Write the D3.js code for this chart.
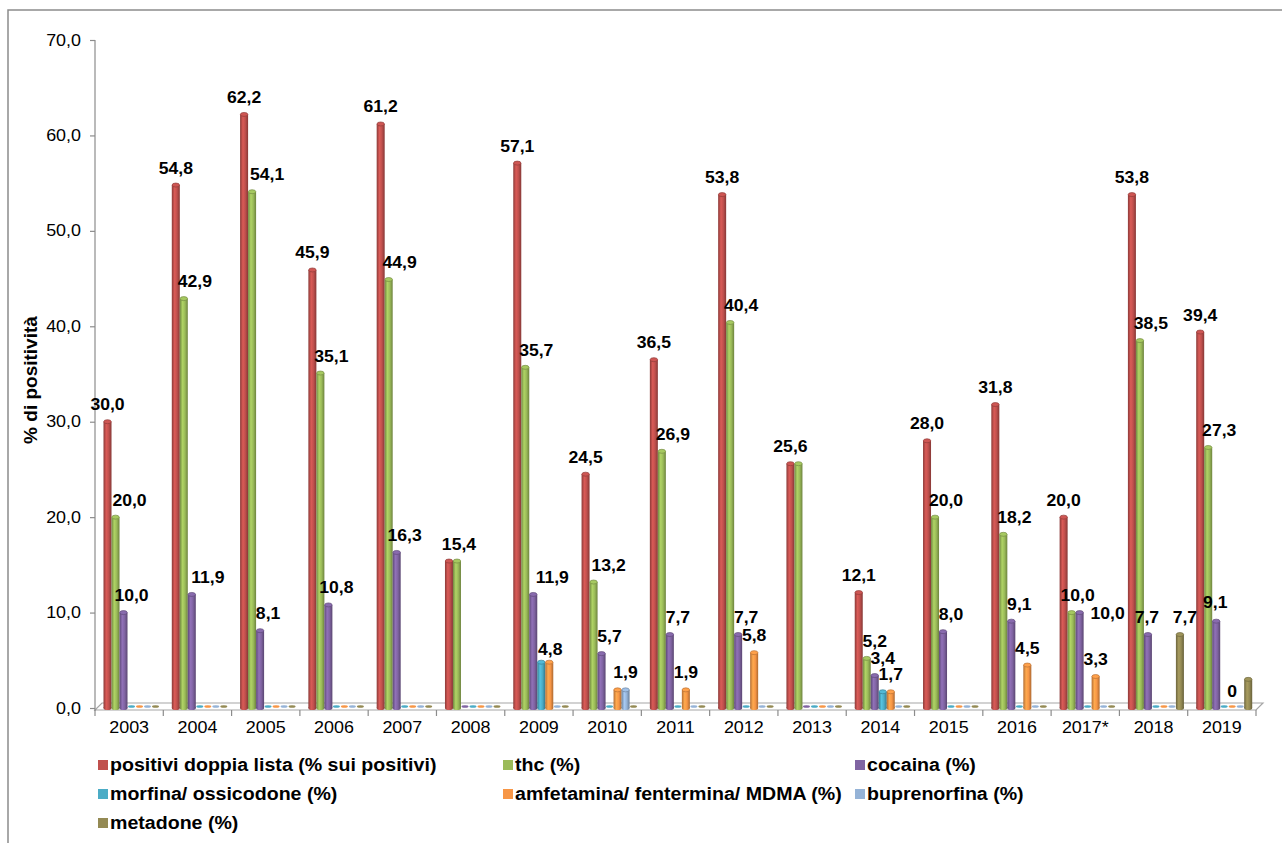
<!DOCTYPE html>
<html>
<head>
<meta charset="utf-8">
<script src="https://cdn.jsdelivr.net/npm/d3@7"></script>
<style>
  body { margin: 0; background: #fff; }
  svg { display: block; }
  text { font-family: Arial, "Liberation Sans", sans-serif; }
</style>
</head>
<body>
<svg id="chart" width="1282" height="843"></svg>
<script>
// Categories and series values (% di positività)
const years = ["2003","2004","2005","2006","2007","2008","2009","2010","2011","2012","2013","2014","2015","2016","2017*","2018","2019"];
const seriesNames = [
  "positivi doppia lista (% sui positivi)",
  "thc (%)",
  "cocaina (%)",
  "morfina/ ossicodone (%)",
  "amfetamina/ fentermina/ MDMA (%)",
  "buprenorfina (%)",
  "metadone (%)"
];
const positiviDoppiaLista = [30.0,54.8,62.2,45.9,61.2,15.4,57.1,24.5,36.5,53.8,25.6,12.1,28.0,31.8,20.0,53.8,39.4];
const thc                 = [20.0,42.9,54.1,35.1,44.9,15.4,35.7,13.2,26.9,40.4,25.6, 5.2,20.0,18.2,10.0,38.5,27.3];
const cocaina             = [10.0,11.9, 8.1,10.8,16.3, 0.0,11.9, 5.7, 7.7, 7.7, 0.0, 3.4, 8.0, 9.1,10.0, 7.7, 9.1];
const morfina             = [ 0.0, 0.0, 0.0, 0.0, 0.0, 0.0, 4.8, 0.0, 0.0, 0.0, 0.0, 1.7, 0.0, 0.0, 0.0, 0.0, 0.0];
const amfetamina          = [ 0.0, 0.0, 0.0, 0.0, 0.0, 0.0, 4.8, 1.9, 1.9, 5.8, 0.0, 1.7, 0.0, 4.5, 3.3, 0.0, 0.0];
const buprenorfina        = [ 0.0, 0.0, 0.0, 0.0, 0.0, 0.0, 0.0, 1.9, 0.0, 0.0, 0.0, 0.0, 0.0, 0.0, 0.0, 0.0, 0.0];
const metadone            = [ 0.0, 0.0, 0.0, 0.0, 0.0, 0.0, 0.0, 0.0, 0.0, 0.0, 0.0, 0.0, 0.0, 0.0, 0.0, 7.7, 3.0];
const yTicks = [0,10,20,30,40,50,60,70];

// Labels left out: duplicates of an identical neighbour, and the unlabelled metadone 2019 bar
const hiddenLabels = [[0,"2008"],[1,"2013"],[3,"2009"],[4,"2010"],[3,"2014"],[6,"2019"]];
// Zero value that still carries a label
const zeroLabels = [[4,"2019"]];

const seriesValues = [positiviDoppiaLista, thc, cocaina, morfina, amfetamina, buprenorfina, metadone];
const colors = ["#C0504D","#9BBB59","#8064A2","#4BACC6","#F79646","#95B3D7","#948A54"];

// label placement relative to the cylinder centre
const labelDx = [0, 11, 8, 0, 0, 0, 5];
const labelNudge = {
  "1|2003": [3,0], "1|2005": [4,0], "1|2008": [-9,0], "1|2010": [4,0], "1|2014": [-3,0], "1|2017*": [-5,0],
  "2|2004": [8,0], "2|2009": [11,0], "2|2017*": [20,18], "2|2018": [-9,0], "2|2019": [-9,-2],
  "4|2009": [1,4]
};

// the lettering is slightly wide: stretch text horizontally about its anchor
const STRETCH = 1.12;
function widen(sel, k) {
  sel.each(function () {
    const t = d3.select(this);
    const tx = +t.attr("x") || 0, ty = +t.attr("y") || 0;
    t.attr("x", 0).attr("y", 0)
     .attr("transform", `translate(${tx},${ty}) scale(${k},1)`);
  });
}

const svg = d3.select("#chart");
const defs = svg.append("defs");

const W = 1282, H = 843;
const x0 = 95, x1 = 1256;     // front edge of the floor
const depthX = 7, depthY = 7; // 3-D depth of the floor

const x = d3.scaleBand().domain(years).range([x0, x1]).padding(0);
const xs = d3.scaleBand().domain(d3.range(seriesNames.length)).range([8.5, 64.5]).padding(0);
const y = d3.scaleLinear().domain([0, 70]).range([708, 40]);

// outer frame
svg.append("path")
  .attr("d", `M8,${H} L8,10 L${W},10`)
  .attr("fill", "none").attr("stroke", "#8c8c8c").attr("stroke-width", 1.5);

// cylinder shading
colors.forEach((c, i) => {
  const base = d3.color(c);
  const g = defs.append("linearGradient").attr("id", "cyl" + i)
    .attr("x1", "0%").attr("x2", "100%").attr("y1", "0%").attr("y2", "0%");
  g.append("stop").attr("offset", "0%").attr("stop-color", base.darker(0.9));
  g.append("stop").attr("offset", "35%").attr("stop-color", base.brighter(0.35));
  g.append("stop").attr("offset", "65%").attr("stop-color", base);
  g.append("stop").attr("offset", "100%").attr("stop-color", base.darker(1.0));
});

// floor
const floorPts = [[x0, 710], [x1, 710], [x1 + depthX, 710 - depthY], [x0 + depthX, 710 - depthY]];
svg.append("polygon")
  .attr("points", floorPts.map(p => p.join(",")).join(" "))
  .attr("fill", "#ffffff").attr("stroke", "#a6a6a6").attr("stroke-width", 1.2);

// y axis
const yAxis = d3.axisLeft(y).tickValues(yTicks).tickSize(5).tickSizeOuter(0)
  .tickFormat(d => d3.format(".1f")(d).replace(".", ","));
const gy = svg.append("g").attr("transform", `translate(${x0},0)`).call(yAxis);
gy.select(".domain").attr("stroke", "#8c8c8c").attr("stroke-width", 1.2)
  .attr("d", `M0,${y(70)}V711`);
gy.selectAll(".tick line").attr("stroke", "#8c8c8c").attr("stroke-width", 1.2);
gy.selectAll(".tick text").attr("x", -14).attr("font-size", 16).attr("fill", "#000");
widen(gy.selectAll(".tick text"), STRETCH);

// x axis: labels centred in each band, ticks at band boundaries
const xAxis = d3.axisBottom(x).tickSize(0).tickSizeOuter(0);
const gx = svg.append("g").attr("transform", "translate(0,710)").call(xAxis);
gx.select(".domain").remove();
gx.selectAll(".tick text").attr("y", 12).attr("dy", "0.71em").attr("font-size", 16).attr("fill", "#000");
widen(gx.selectAll(".tick text"), STRETCH);
svg.append("g").selectAll("line")
  .data(years.concat(["end"]))
  .join("line")
  .attr("x1", (d, i) => i < years.length ? x(d) : x1)
  .attr("x2", (d, i) => i < years.length ? x(d) : x1)
  .attr("y1", 710).attr("y2", 716)
  .attr("stroke", "#8c8c8c").attr("stroke-width", 1.2);

// bars
const bw = xs.bandwidth();
const capRy = 2;
const barsG = svg.append("g");
seriesValues.forEach((vals, si) => {
  const g = barsG.append("g");
  const data = vals.map((v, yi) => ({ v, year: years[yi], si }));
  const nonZero = data.filter(d => d.v > 0);
  const zero = data.filter(d => d.v === 0);
  const bx = d => x(d.year) + xs(si);
  g.selectAll("rect.body").data(nonZero).join("rect")
    .attr("class", "body")
    .attr("x", bx).attr("width", bw)
    .attr("y", d => y(d.v)).attr("height", d => y(0) - y(d.v))
    .attr("fill", `url(#cyl${si})`);
  // rounded base
  g.selectAll("ellipse.base").data(nonZero).join("ellipse")
    .attr("class", "base")
    .attr("cx", d => bx(d) + bw / 2).attr("cy", y(0))
    .attr("rx", bw / 2).attr("ry", capRy)
    .attr("fill", `url(#cyl${si})`);
  // top cap
  g.selectAll("ellipse.cap").data(nonZero).join("ellipse")
    .attr("class", "cap")
    .attr("cx", d => bx(d) + bw / 2).attr("cy", d => y(d.v))
    .attr("rx", bw / 2 - 0.3).attr("ry", capRy)
    .attr("fill", d3.color(colors[si]).brighter(0.2))
    .attr("stroke", d3.color(colors[si]).darker(0.8)).attr("stroke-width", 0.7);
  // zero-height discs on the floor
  g.selectAll("ellipse.flat").data(zero).join("ellipse")
    .attr("class", "flat")
    .attr("cx", d => bx(d) + bw / 2).attr("cy", y(0) - 1.5)
    .attr("rx", bw / 2 - 0.5).attr("ry", 1.3)
    .attr("fill", colors[si]);
});

// value labels
const fmt = v => v === 0 ? "0" : d3.format(".1f")(v).replace(".", ",");
const isHidden = (si, yr) => hiddenLabels.some(([s, t]) => s === si && t === yr);
const isZeroLabel = (si, yr) => zeroLabels.some(([s, t]) => s === si && t === yr);
const labelData = [];
seriesValues.forEach((vals, si) => {
  vals.forEach((v, yi) => {
    const yr = years[yi];
    if ((v > 0 && !isHidden(si, yr)) || (v === 0 && isZeroLabel(si, yr))) {
      labelData.push({ si, yr, v });
    }
  });
});
const valueLabels = svg.append("g").selectAll("text").data(labelData).join("text")
  .attr("x", d => {
    const n = labelNudge[d.si + "|" + d.yr] || [0, 0];
    return x(d.yr) + xs(d.si) + bw / 2 + labelDx[d.si] + n[0];
  })
  .attr("y", d => {
    const n = labelNudge[d.si + "|" + d.yr] || [0, 0];
    return y(d.v) - 11.5 + n[1];
  })
  .attr("text-anchor", "middle")
  .attr("font-size", 16).attr("font-weight", "bold").attr("fill", "#000")
  .text(d => fmt(d.v));
widen(valueLabels, 1.1);

// y axis title
svg.append("text")
  .attr("transform", "translate(37,380) rotate(-90)")
  .attr("text-anchor", "middle")
  .attr("font-size", 19).attr("font-weight", "bold").attr("fill", "#000")
  .text("% di positività");

// legend: three columns, row-major order
const legendCols = [98, 503, 855];
const legendRows = [765, 794, 823];
const lg = svg.append("g").selectAll("g").data(seriesNames).join("g")
  .attr("transform", (d, i) => `translate(${legendCols[i % 3]},${legendRows[Math.floor(i / 3)]})`);
lg.append("rect").attr("x", 0).attr("y", -5).attr("width", 10).attr("height", 10)
  .attr("fill", (d, i) => colors[i]);
const legendText = lg.append("text").attr("x", 12).attr("y", 6)
  .attr("font-size", 17.5).attr("font-weight", "bold").attr("fill", "#000")
  .text(d => d);
widen(legendText, STRETCH);
</script>
</body>
</html>
